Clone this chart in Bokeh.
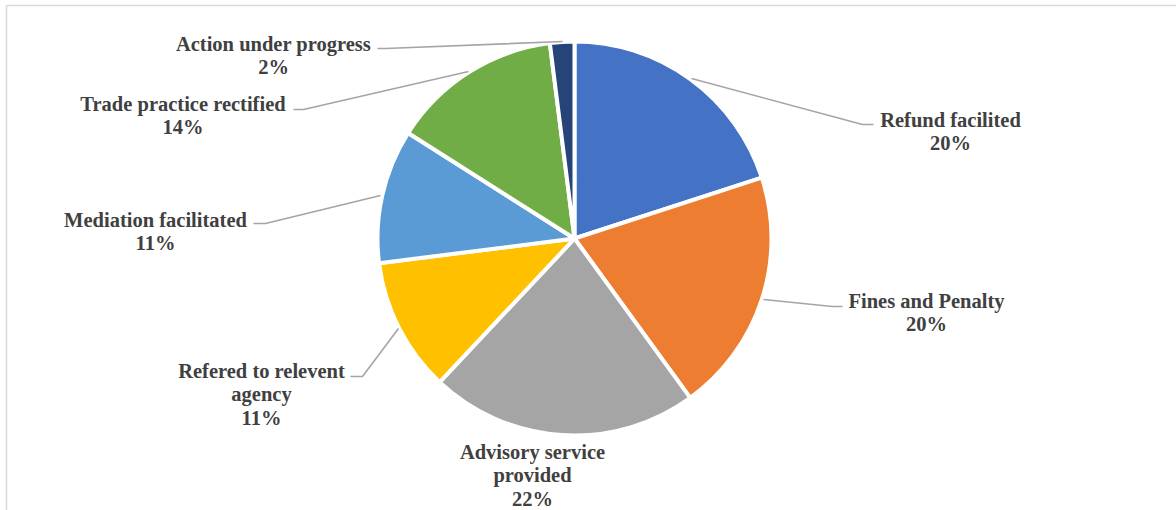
import numpy as np
from bokeh.plotting import figure
from bokeh.models import Range1d, ColumnDataSource
from bokeh.core.properties import value
from bokeh.embed import file_html
from bokeh.resources import INLINE

# ---------------- data ----------------
categories = ["Refund facilited", "Fines and Penalty", "Advisory service provided",
              "Refered to relevent agency", "Mediation facilitated",
              "Trade practice rectified", "Action under progress"]
values = [20, 20, 22, 11, 11, 14, 2]
colors = ["#4472C4", "#ED7D31", "#A5A5A5", "#FFC000", "#5B9BD5", "#70AD47", "#264478"]

# ---------------- layout (pixels from top-left) ----------------
W, H = 1176, 510

def fx(x):
    return x

def fy(y):
    return H - y

CX, CY, R = 574, 238, 197

label_wrap = {
    "Advisory service provided": ["Advisory service", "provided"],
    "Refered to relevent agency": ["Refered to relevent", "agency"],
}
label_anchor = {   # (center x, baseline of first line)
    "Refund facilited": (950, 126),
    "Fines and Penalty": (926, 307),
    "Advisory service provided": (532, 458),
    "Refered to relevent agency": (261, 377),
    "Mediation facilitated": (155, 226),
    "Trade practice rectified": (182.5, 110),
    "Action under progress": (273, 50),
}
TEXT_SHIFT = -7    # renderer places alphabetic baseline lower; compensate
leaders = {
    "Refund facilited": [(691, 78), (862, 124), (873, 124)],
    "Fines and Penalty": [(763, 299), (832, 306), (842, 306)],
    "Refered to relevent agency": [(398, 328), (362, 376), (350, 376)],
    "Mediation facilitated": [(380, 195), (265, 223), (253, 223)],
    "Trade practice rectified": [(468, 71), (303, 109), (293, 109)],
    "Action under progress": [(562, 41), (385, 48), (377, 48)],
}
LINE_STEP = 23.5

p = figure(width=W, height=H, x_range=Range1d(0, W), y_range=Range1d(0, H),
           output_backend="svg", toolbar_location=None, min_border=0,
           x_axis_location=None, y_axis_location=None)
p.grid.visible = False
p.outline_line_color = None
p.background_fill_color = "white"
p.border_fill_color = "white"

# chart-area border (top and left visible)
bx, by = fx(6), fy(5)
p.segment(x0=[bx, bx], y0=[by, by], x1=[W, bx], y1=[by, 0],
          line_color="#D9D9D9", line_width=1.5)

# pie wedges (clockwise from 12 o'clock)
vals = np.array(values, dtype=float)
frac = vals / vals.sum()
cum_end = np.cumsum(frac)
cum_start = cum_end - frac
start = np.pi / 2 - 2 * np.pi * cum_end
end = np.pi / 2 - 2 * np.pi * cum_start
src = ColumnDataSource(dict(start=start, end=end, color=colors, cat=categories))
p.wedge(x=fx(CX), y=fy(CY), radius=R, start_angle="start", end_angle="end",
        direction="anticlock", fill_color="color", line_color="white", line_width=4, source=src)

# leader lines
xs, ys = [], []
for c in categories:
    if c in leaders:
        pts = leaders[c]
        xs.append([fx(pt[0]) for pt in pts])
        ys.append([fy(pt[1]) for pt in pts])
p.multi_line(xs=xs, ys=ys, line_color="#A5A5A5", line_width=1.6)

# labels
tx, tyy, tt = [], [], []
for c, v in zip(categories, values):
    lines = label_wrap.get(c, [c]) + [f"{v}%"]
    ax, ay = label_anchor[c]
    for j, ln in enumerate(lines):
        tx.append(fx(ax))
        tyy.append(fy(ay + j * LINE_STEP + TEXT_SHIFT))
        tt.append(ln)
p.text(x=tx, y=tyy, text=tt, text_align="center", text_baseline="alphabetic",
       text_font=value("Liberation Serif"), text_font_style="bold", text_font_size="20.5px",
       text_color="#404040")

open("out.html", "w").write(file_html(p, INLINE))
